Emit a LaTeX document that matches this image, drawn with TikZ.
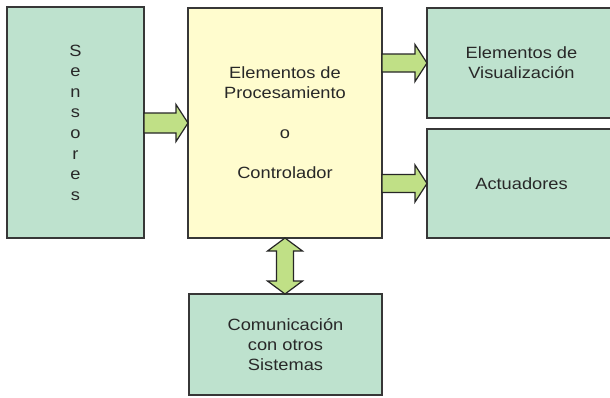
\documentclass[tikz,border=0pt]{standalone}
\usepackage{fontspec}
\setmainfont{Liberation Sans}[FakeStretch=1.12]
\usetikzlibrary{calc}
\definecolor{boxgreen}{RGB}{190,226,206}
\definecolor{boxyellow}{RGB}{255,252,206}
\definecolor{arrowgreen}{RGB}{192,224,134}
\definecolor{edgegray}{RGB}{55,55,55}
\definecolor{textgray}{RGB}{40,40,40}
\tikzset{
  box/.style={draw=edgegray, line width=1.4pt, inner sep=0pt, outer sep=0pt, align=center,
    text=textgray, font={\fontsize{16.3}{20}\selectfont}},
  greenbox/.style={box, fill=boxgreen},
  yellowbox/.style={box, fill=boxyellow},
  barrow/.style={draw=black!85, line width=1.2pt, fill=arrowgreen, line join=miter}
}
\begin{document}
\begin{tikzpicture}[x=1pt,y=-1pt]
\useasboundingbox[fill=white] (0,0) rectangle (610,397);
\node[greenbox, minimum width=137pt, minimum height=231pt, font={\fontsize{16.3}{20.6}\selectfont}]
  (sens) at (75.5,122.5) {S\\e\\n\\s\\o\\r\\e\\s};
\node[yellowbox, minimum width=194pt, minimum height=230pt]
  (proc) at (285,123) {Elementos de\\Procesamiento\\[20pt]o\\[20pt]Controlador};
\node[greenbox, minimum width=189pt, minimum height=110pt]
  (vis) at (521.5,63) {Elementos de\\Visualización};
\node[greenbox, minimum width=189pt, minimum height=109pt]
  (act) at (521.5,183.5) {Actuadores};
\node[greenbox, minimum width=193pt, minimum height=101pt]
  (com) at (285.5,344.5) {Comunicación\\con otros\\Sistemas};
% block arrows
\draw[barrow] let \p1=(sens.east), \p2=(proc.west) in
  (\x1,\y2+10pt) -- (\x2-12pt,\y2+10pt) -- (\x2-12pt,\y2+18.5pt) -- (\x2,\y2)
  -- (\x2-12pt,\y2-18.5pt) -- (\x2-12pt,\y2-10pt) -- (\x1,\y2-10pt) -- cycle;
\draw[barrow] let \p1=(proc.east), \p2=(vis.west) in
  (\x1,\y2+9pt) -- (\x2-12pt,\y2+9pt) -- (\x2-12pt,\y2+18.5pt) -- (\x2,\y2)
  -- (\x2-12pt,\y2-18.5pt) -- (\x2-12pt,\y2-9pt) -- (\x1,\y2-9pt) -- cycle;
\draw[barrow] let \p1=(proc.east), \p2=(act.west) in
  (\x1,\y2+9pt) -- (\x2-12pt,\y2+9pt) -- (\x2-12pt,\y2+18.5pt) -- (\x2,\y2)
  -- (\x2-12pt,\y2-18.5pt) -- (\x2-12pt,\y2-9pt) -- (\x1,\y2-9pt) -- cycle;
\draw[barrow] let \p1=(proc.south), \p2=(com.north) in
  (\x1,\y1) -- (\x1+17.5pt,\y1-13pt) -- (\x1+8.5pt,\y1-13pt) -- (\x1+8.5pt,\y2+13pt)
  -- (\x1+17.5pt,\y2+13pt) -- (\x1,\y2) -- (\x1-17.5pt,\y2+13pt) -- (\x1-8.5pt,\y2+13pt)
  -- (\x1-8.5pt,\y1-13pt) -- (\x1-17.5pt,\y1-13pt) -- cycle;
\end{tikzpicture}
\end{document}
